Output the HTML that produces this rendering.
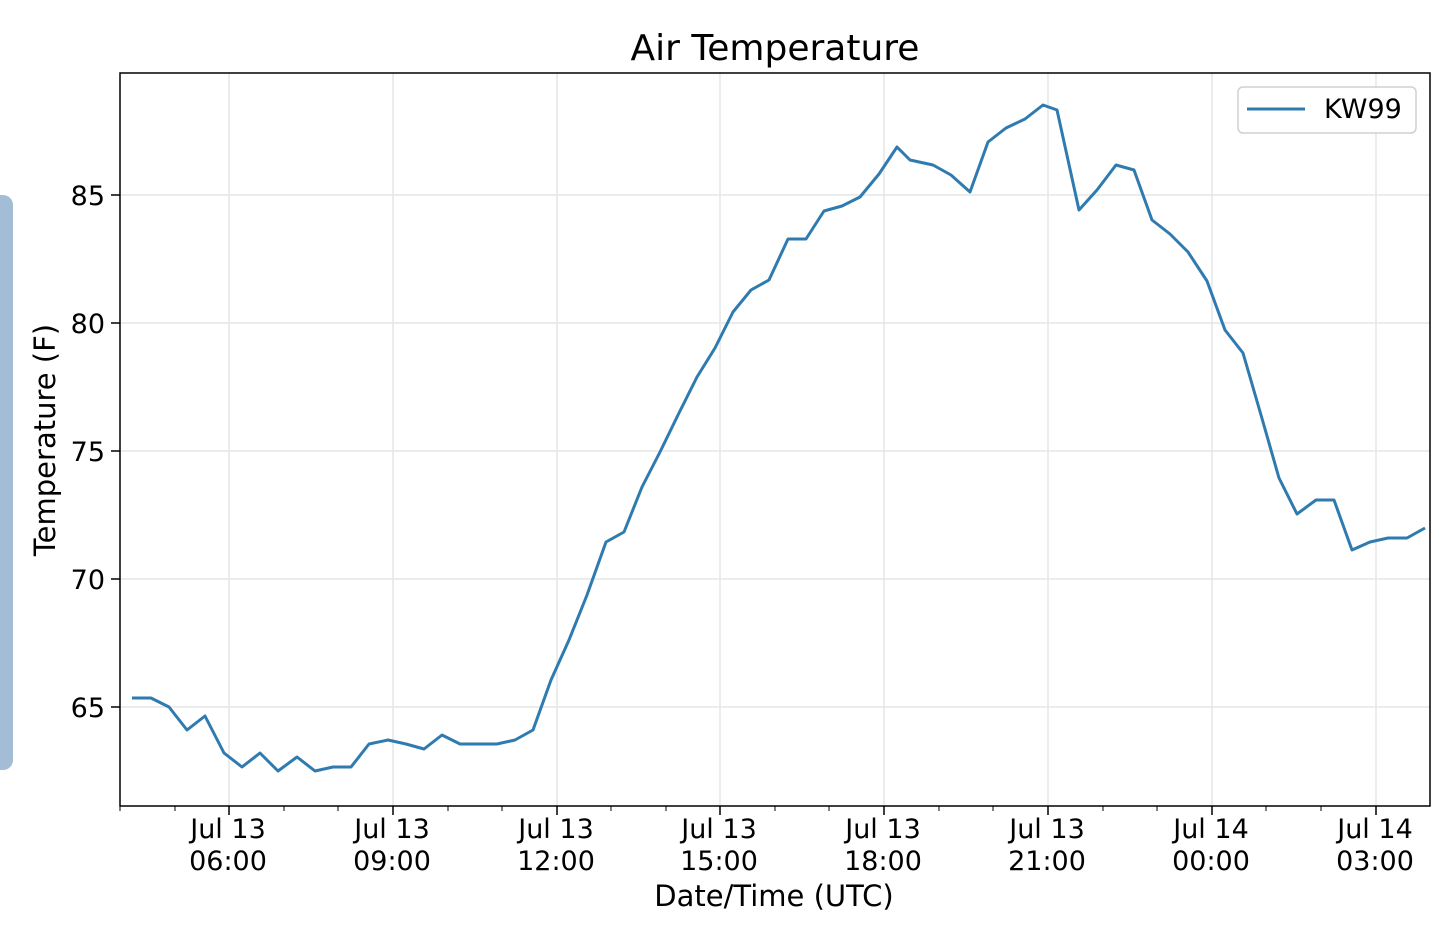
<!DOCTYPE html>
<html><head><meta charset="utf-8"><style>
body{margin:0;background:#fff;width:1440px;height:927px;overflow:hidden}
text{font-family:"DejaVu Sans","Liberation Sans",sans-serif;fill:#000}
</style></head><body>
<svg width="1440" height="927" xmlns="http://www.w3.org/2000/svg">
<rect x="-10" y="195" width="23" height="575" rx="10" fill="#a3bdd6"/>
<g stroke="#e6e6e6" stroke-width="1.5">
<line x1="229" y1="73" x2="229" y2="806"/><line x1="393" y1="73" x2="393" y2="806"/><line x1="557" y1="73" x2="557" y2="806"/><line x1="720" y1="73" x2="720" y2="806"/><line x1="884" y1="73" x2="884" y2="806"/><line x1="1048" y1="73" x2="1048" y2="806"/><line x1="1212" y1="73" x2="1212" y2="806"/><line x1="1376" y1="73" x2="1376" y2="806"/>
<line x1="120" y1="195" x2="1430" y2="195"/><line x1="120" y1="323" x2="1430" y2="323"/><line x1="120" y1="451" x2="1430" y2="451"/><line x1="120" y1="579" x2="1430" y2="579"/><line x1="120" y1="707" x2="1430" y2="707"/>
</g>
<polyline fill="none" stroke="#2f7bb0" stroke-width="3" stroke-linejoin="round" points="132,698 151,698 169,707 187,730 205,716 224,753 242,767 260,753 278,771 297,757 315,771 333,767 351,767 369,744 388,740 406,744 424,749 442,735 460,744 479,744 497,744 515,740 533,730 551,680 569,640 587,595 606,542 624,532 642,487 660,452 678,415 697,377 715,348 733,312 751,290 769,280 788,239 806,239 824,211 842,206 860,197 879,174 897,147 910,160 933,165 951,175 970,192 988,142 1006,128 1025,119 1043,105 1057,110 1079,210 1097,190 1116,165 1134,170 1152,220 1170,234 1188,252 1207,281 1225,330 1243,353 1261,415 1279,478 1297,514 1316,500 1334,500 1352,550 1370,542 1388,538 1407,538 1425,528"/>
<rect x="120" y="73" width="1310" height="733" fill="none" stroke="#000" stroke-width="1.5"/>
<g stroke="#000" stroke-width="1.5">
<line x1="229" y1="806" x2="229" y2="815"/><line x1="393" y1="806" x2="393" y2="815"/><line x1="557" y1="806" x2="557" y2="815"/><line x1="720" y1="806" x2="720" y2="815"/><line x1="884" y1="806" x2="884" y2="815"/><line x1="1048" y1="806" x2="1048" y2="815"/><line x1="1212" y1="806" x2="1212" y2="815"/><line x1="1376" y1="806" x2="1376" y2="815"/>
<line x1="120" y1="195" x2="111" y2="195"/><line x1="120" y1="323" x2="111" y2="323"/><line x1="120" y1="451" x2="111" y2="451"/><line x1="120" y1="579" x2="111" y2="579"/><line x1="120" y1="707" x2="111" y2="707"/>
</g>
<g stroke="#000" stroke-width="1">
<line x1="175" y1="806" x2="175" y2="811"/><line x1="284" y1="806" x2="284" y2="811"/><line x1="338" y1="806" x2="338" y2="811"/><line x1="448" y1="806" x2="448" y2="811"/><line x1="502" y1="806" x2="502" y2="811"/><line x1="611" y1="806" x2="611" y2="811"/><line x1="666" y1="806" x2="666" y2="811"/><line x1="775" y1="806" x2="775" y2="811"/><line x1="829" y1="806" x2="829" y2="811"/><line x1="939" y1="806" x2="939" y2="811"/><line x1="993" y1="806" x2="993" y2="811"/><line x1="1103" y1="806" x2="1103" y2="811"/><line x1="1157" y1="806" x2="1157" y2="811"/><line x1="1266" y1="806" x2="1266" y2="811"/><line x1="1321" y1="806" x2="1321" y2="811"/><line x1="120" y1="806" x2="120" y2="811"/>
</g>
<g font-size="27" text-anchor="end">
<text x="105" y="205">85</text><text x="105" y="333">80</text><text x="105" y="461">75</text><text x="105" y="589">70</text><text x="105" y="717">65</text>
</g>
<g font-size="27" text-anchor="middle">
<text x="228" y="838">Jul 13</text><text x="228" y="870">06:00</text>
<text x="392" y="838">Jul 13</text><text x="392" y="870">09:00</text>
<text x="556" y="838">Jul 13</text><text x="556" y="870">12:00</text>
<text x="719" y="838">Jul 13</text><text x="719" y="870">15:00</text>
<text x="883" y="838">Jul 13</text><text x="883" y="870">18:00</text>
<text x="1047" y="838">Jul 13</text><text x="1047" y="870">21:00</text>
<text x="1211" y="838">Jul 14</text><text x="1211" y="870">00:00</text>
<text x="1375" y="838">Jul 14</text><text x="1375" y="870">03:00</text>
<text x="774" y="906" font-size="29">Date/Time (UTC)</text>
<text x="775" y="60" font-size="36">Air Temperature</text>
<text transform="translate(55,440) rotate(-90)" font-size="29">Temperature (F)</text>
</g>
<rect x="1238" y="87" width="178" height="46" rx="5" fill="#fff" stroke="#d0d0d0" stroke-width="1.5"/>
<line x1="1247" y1="109" x2="1305" y2="109" stroke="#2f7bb0" stroke-width="3"/>
<text x="1324" y="118" font-size="27">KW99</text>
</svg>
</body></html>
